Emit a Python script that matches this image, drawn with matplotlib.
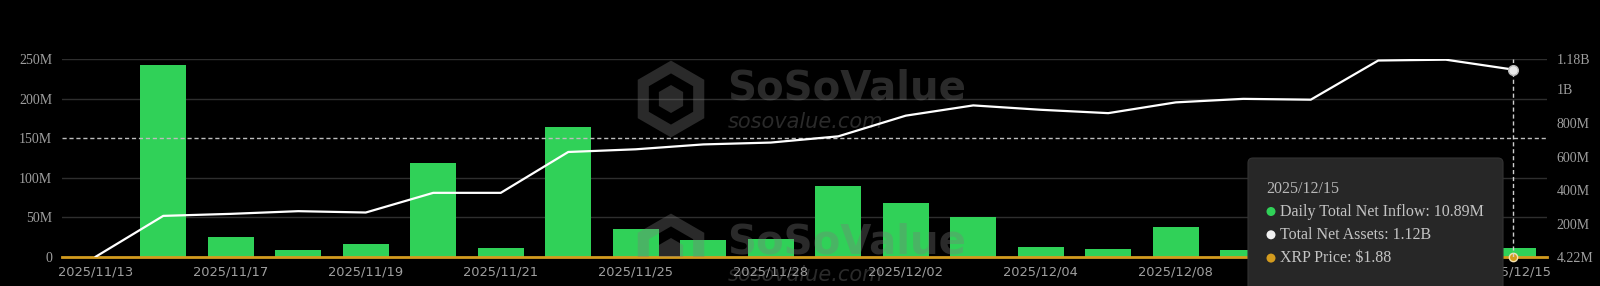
import matplotlib
matplotlib.use("Agg")
import matplotlib.pyplot as plt
from matplotlib.patches import FancyBboxPatch, RegularPolygon, Circle
from matplotlib import transforms

# ---------------- data ----------------
dates = ["2025/11/13", "2025/11/14", "2025/11/17", "2025/11/18", "2025/11/19",
         "2025/11/20", "2025/11/21", "2025/11/24", "2025/11/25", "2025/11/26",
         "2025/11/28", "2025/12/01", "2025/12/02", "2025/12/03", "2025/12/04",
         "2025/12/05", "2025/12/08", "2025/12/09", "2025/12/10", "2025/12/11",
         "2025/12/12", "2025/12/15"]
daily_inflow_m = [0, 243.0, 25.3, 8.5, 15.7, 118.2, 11.4, 163.8, 34.7, 21.1,
                  22.4, 89.5, 67.6, 49.9, 12.3, 9.7, 37.6, 8.5, 9.0, 20.0,
                  18.0, 10.89]
total_assets_m = [4.22, 247, 259, 275, 267, 384, 384, 627, 643, 672, 683, 720,
                  843, 904, 878, 858, 922, 943, 938, 1171, 1176, 1117]
xtick_idx = [0, 2, 4, 6, 8, 10, 12, 14, 16, 18, 21]
left_ticks_m = [0, 50, 100, 150, 200, 250]
left_tick_labels = ["0", "50M", "100M", "150M", "200M", "250M"]
right_ticks_m = [4.22, 200, 400, 600, 800, 1000, 1180]
right_tick_labels = ["4.22M", "200M", "400M", "600M", "800M", "1B", "1.18B"]
tooltip_date = "2025/12/15"
tooltip_lines = ["Daily Total Net Inflow: 10.89M", "Total Net Assets: 1.12B",
                 "XRP Price: $1.88"]

# ---------------- style ----------------
GREEN = "#30D158"
ORANGE = "#D39B1E"
BG = "#000000"
GRID = "#2e2e2e"
LBL = "#9f9f9f"

W, H = 1600, 286
fig = plt.figure(figsize=(W / 100, H / 100), dpi=100, facecolor=BG)
px = transforms.Affine2D().scale(1 / W, 1 / H) + fig.transFigure


def fy(y):
    return H - y


L, R, T, B = 62, 1547, 59, 256.7
ax = fig.add_axes([L / W, (H - B) / H, (R - L) / W, (B - T) / H])
ax.set_facecolor(BG)
ax2 = ax.twinx()

x = list(range(len(dates)))
ax.bar(x, daily_inflow_m, width=0.68, color=GREEN, zorder=2)
ax.set_xlim(-0.5, len(dates) - 0.5)
ax.set_ylim(0, 250)
ax.set_yticks(left_ticks_m)
ax.set_yticklabels(left_tick_labels, family="Liberation Serif", fontsize=10, color=LBL)
for v in left_ticks_m:
    if v != 150:
        ax.axhline(v, color=GRID, lw=1, zorder=0)
ax.axhline(150, color="#bdbdbd", lw=1, ls=(0, (3, 2)), zorder=3)
ax.set_xticks(xtick_idx)
ax.set_xticklabels([dates[i] for i in xtick_idx], family="DejaVu Sans",
                   fontsize=9.4, color=LBL)
ax.tick_params(axis="both", length=0)
ax.tick_params(axis="y", pad=7)
ax.tick_params(axis="x", pad=6)
for s in ["top", "right", "left"]:
    ax.spines[s].set_visible(False)
ax.spines["bottom"].set_color(ORANGE)
ax.spines["bottom"].set_linewidth(2)
ax.spines["bottom"].set_zorder(4)

ax2.plot(x, total_assets_m, color="white", lw=1.6, zorder=3)
ax2.plot(x[-1], total_assets_m[-1], "o", ms=7, color="#e8e8e8", mec="#bbbbbb",
         mew=1, zorder=4)
ax2.set_ylim(4.22, 1180)
ax2.set_yticks(right_ticks_m)
ax2.set_yticklabels(right_tick_labels, family="Liberation Serif", fontsize=10, color=LBL)
ax2.tick_params(axis="y", length=0, pad=7)
for s in ax2.spines.values():
    s.set_visible(False)
ax2.axvline(x[-1], color="#cfcfcf", lw=1, ls=(0, (3, 2)), zorder=2)
ax.plot(x[-1], 0, "o", ms=6, color=ORANGE, mec="#f3e2b0", mew=1, zorder=6,
        clip_on=False)

# ---------------- watermarks ----------------
WM = dict(color="#7c7c7c", alpha=0.34)
for dy in (0, 153):
    hexo = RegularPolygon((671, fy(99 + dy)), numVertices=6, radius=32,
                          orientation=0, transform=px, facecolor="none",
                          edgecolor=WM["color"], alpha=WM["alpha"], lw=8,
                          zorder=5)
    ax.add_artist(hexo)
    hexi = RegularPolygon((671, fy(99 + dy)), numVertices=6, radius=14,
                          orientation=0, transform=px, facecolor=WM["color"],
                          edgecolor="none", alpha=WM["alpha"], zorder=5)
    ax.add_artist(hexi)
    ax.text(727, fy(89 + dy), "SoSoValue", transform=px, fontsize=29,
            fontweight="bold", family="DejaVu Sans", ha="left", va="center",
            zorder=5, **WM)
    ax.text(728, fy(122 + dy), "sosovalue.com", transform=px, fontsize=15,
            style="italic", family="DejaVu Sans", ha="left", va="center",
            zorder=5, **WM)

# ---------------- tooltip ----------------
tip = FancyBboxPatch((1248, fy(320)), 255, 320 - 158,
                     boxstyle="round,pad=0,rounding_size=5", transform=px,
                     facecolor="#272727", edgecolor="#333333", lw=0.8, zorder=10)
fig.patches.append(tip)
fig.text(1266, fy(189), tooltip_date, transform=px, family="Liberation Serif",
         fontsize=11.5, color="#b8b8b8", va="center", ha="left", zorder=11)
dot_colors = [GREEN, "#f0f0f0", ORANGE]
for i, (txt, c) in enumerate(zip(tooltip_lines, dot_colors)):
    yy = 211.5 + i * 23.3
    fig.patches.append(Circle((1271, fy(yy)), 4.5, transform=px, facecolor=c,
                              edgecolor="none", zorder=11))
    fig.text(1280, fy(yy), txt, transform=px, family="Liberation Serif",
             fontsize=11.5, color="#c4c4c4", va="center", ha="left", zorder=11)

fig.savefig("out.png", dpi=100, facecolor=BG)
